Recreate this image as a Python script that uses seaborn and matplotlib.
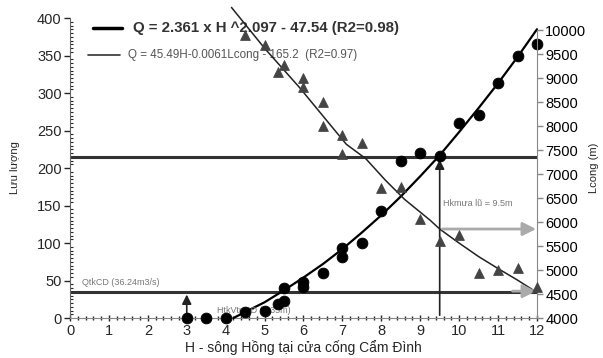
import matplotlib
matplotlib.use('Agg')
import matplotlib.pyplot as plt
import seaborn as sns
from matplotlib.ticker import MultipleLocator

# observed discharge Q (m3/s) vs H
H_q = [3, 3.5, 4, 4.5, 5, 5.35, 5.5, 5.5, 6, 6, 6.5, 7, 7, 7.5, 8, 8.5, 9, 9.5, 10, 10.5, 11, 11.5, 12]
Q_obs = [0, 0, 0, 8, 10, 19, 23, 40, 48, 42, 60, 93, 81, 100, 143, 210, 220, 216, 260, 271, 313, 350, 365]

# observed Lcong (m) vs H
H_l = [4.5, 5, 5.35, 5.5, 6, 6, 6.5, 6.5, 7, 7.5, 7, 8, 8.5, 9, 9.5, 10, 10.5, 11, 11.5, 12]
L_obs = [9896, 9688, 9131, 9271, 8994, 8806, 8506, 8000, 7813, 7640, 7417, 6702, 6719, 6063,
         5610, 5729, 4931, 5000, 5048, 4640]

# fitted curve Q(H)
H_fitq = [4.2, 4.5, 5, 5.5, 6, 6.5, 7, 7.5, 8, 8.5, 9, 9.5, 10, 10.5, 11, 11.5, 12]
Q_fit = [0, 8, 21, 37, 54, 72, 92, 114, 137, 162, 189, 217, 248, 280, 313, 348, 385]

# fitted curve Lcong(H)
H_fitl = [4.15, 5.0, 5.9, 6.55, 7.1, 7.6, 8.1, 8.6, 9.25, 9.5, 10.0, 10.5, 11.0, 11.5, 11.9]
L_fit = [10470, 9620, 8800, 8160, 7620, 7320, 6875, 6470, 6040, 5854, 5560, 5280, 5030, 4790, 4583]

Q_design = 215       # horizontal line
Q_tkcd = 35          # QtkCD line
H_rain = 9.5
H_low = 3
L_rain = 5854
L_low = 4560

sns.set_style('ticks')
plt.rcParams['font.family'] = ['Liberation Sans', 'DejaVu Sans']

fig = plt.figure(figsize=(6.03, 3.58), dpi=100)
ax1 = fig.add_axes([0.1161, 0.1117, 0.7744, 0.838])
ax2 = ax1.twinx()

ax1.set_xlim(0, 12)
ax1.set_ylim(0, 400)
ax2.set_ylim(4000, 10250)

# horizontal reference lines
ax1.axhline(Q_design, color='#333333', lw=2.2, zorder=2)
ax1.axhline(Q_tkcd, color='#333333', lw=2.2, zorder=2)

# vertical arrows
ax1.annotate('', xy=(H_rain, Q_design), xytext=(H_rain, 0),
             arrowprops=dict(arrowstyle='-|>', color='#222222', lw=1.2, mutation_scale=14))
ax1.annotate('', xy=(H_low, Q_tkcd), xytext=(H_low, 0),
             arrowprops=dict(arrowstyle='-|>', color='#222222', lw=1.2, mutation_scale=14))

# data and fits
sns.lineplot(x=H_fitq, y=Q_fit, ax=ax1, color='black', lw=1.6, clip_on=False, zorder=3)
sns.scatterplot(x=H_q, y=Q_obs, ax=ax1, marker='o', s=60, color='black', edgecolor='black',
                clip_on=False, zorder=4)

sns.lineplot(x=H_fitl, y=L_fit, ax=ax2, color='#222222', lw=1.1, clip_on=False, zorder=3)
sns.scatterplot(x=H_l, y=L_obs, ax=ax2, marker='^', s=50, color='#444444', edgecolor='#444444',
                clip_on=False, zorder=4)

# gray arrows to the Lcong axis
ax2.annotate('', xy=(12.05, L_rain), xytext=(H_rain, L_rain), annotation_clip=False,
             arrowprops=dict(arrowstyle='-|>', color='#aaaaaa', lw=2, mutation_scale=20))
ax2.annotate('', xy=(12.05, L_low), xytext=(11.3, L_low), annotation_clip=False,
             arrowprops=dict(arrowstyle='-|>', color='#aaaaaa', lw=2, mutation_scale=20))

# annotations
ax1.text(0.3, 47, 'QtkCD (36.24m3/s)', fontsize=6.5, color='#777777', va='center')
ax1.text(3.77, 10, 'HtkVtuCĐ (5.35m)', fontsize=6.5, color='#777777', va='center')
ax1.text(9.58, 153, 'Hkmưa lũ = 9.5m', fontsize=6.5, color='#777777', va='center')

# legend drawn by hand
ax1.plot([0.049, 0.111], [0.967, 0.967], transform=ax1.transAxes, color='black', lw=2.5,
         clip_on=False)
ax1.text(0.135, 0.967, 'Q = 2.361 x H ^2.097 - 47.54 (R2=0.98)', transform=ax1.transAxes,
         fontsize=10.8, fontweight='bold', color='#333333', va='center')
ax1.plot([0.0385, 0.107], [0.877, 0.877], transform=ax1.transAxes, color='#333333', lw=1.2,
         clip_on=False)
ax1.text(0.124, 0.877, 'Q = 45.49H-0.0061Lcong - 165.2  (R2=0.97)', transform=ax1.transAxes,
         fontsize=8.4, color='#555555', va='center')

# axes styling
ax1.xaxis.set_major_locator(MultipleLocator(1))
ax1.xaxis.set_minor_locator(MultipleLocator(0.2))
ax1.yaxis.set_major_locator(MultipleLocator(50))
ax1.yaxis.set_minor_locator(MultipleLocator(5))
ax2.yaxis.set_major_locator(MultipleLocator(500))

ax1.tick_params(axis='x', which='major', length=4, width=1, direction='inout', labelsize=10.5, pad=2)
ax1.tick_params(axis='x', which='minor', length=3, width=1, direction='inout')
ax1.tick_params(axis='y', which='major', length=4, width=1, labelsize=10.5, pad=2)
ax1.tick_params(axis='y', which='minor', length=2.5, width=0.8, direction='in')
ax2.tick_params(axis='y', which='major', length=4, width=1, labelsize=10.5, pad=2, colors='#888888',
                labelcolor='black')

for sp in ['top', 'right']:
    ax1.spines[sp].set_visible(False)
ax2.spines['top'].set_visible(False)
ax2.spines['left'].set_visible(False)
ax2.spines['bottom'].set_visible(False)
ax2.spines['right'].set_color('#888888')
ax2.spines['right'].set_bounds(4000, 10000)
ax1.spines['left'].set_color('#666666')
ax1.spines['bottom'].set_color('#888888')

ax1.set_xlabel('H - sông Hồng tại cửa cống Cẩm Đình', fontsize=10, labelpad=2)
ax1.set_ylabel('Lưu lượng', fontsize=8, labelpad=12)
ax2.set_ylabel('Lcong (m)', fontsize=8, labelpad=2)

fig.savefig('out.png', dpi=100)
